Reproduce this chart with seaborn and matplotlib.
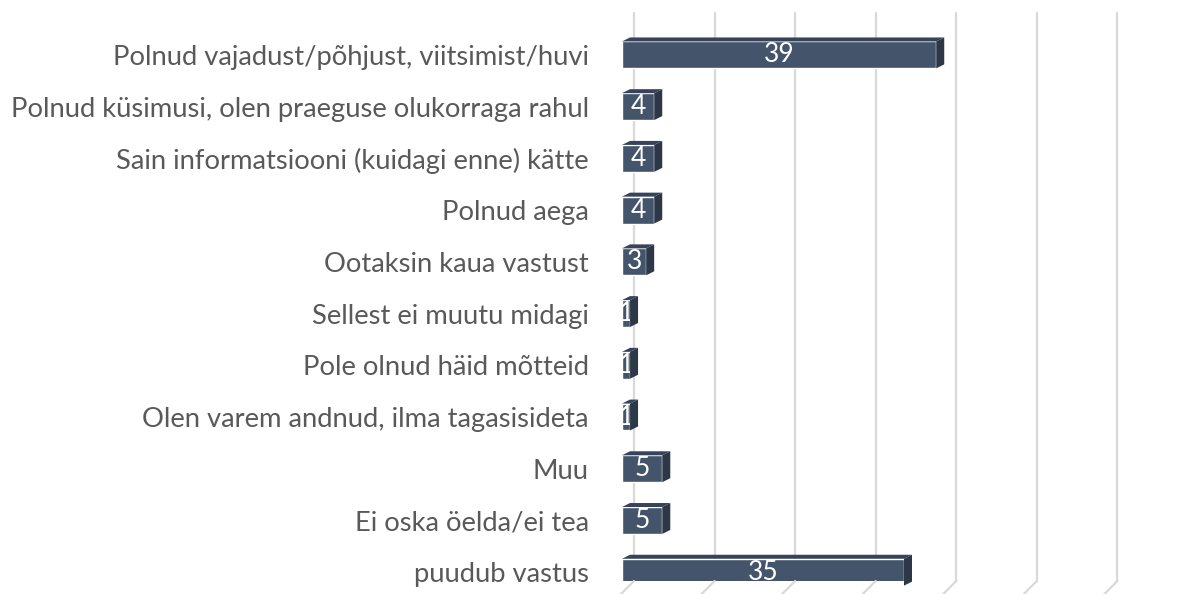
import matplotlib
matplotlib.use("Agg")
import matplotlib.pyplot as plt
import matplotlib.transforms as mtransforms
from matplotlib.patches import Polygon
import pandas as pd
import seaborn as sns

# data
categories = [
    "Polnud vajadust/põhjust, viitsimist/huvi",
    "Polnud küsimusi, olen praeguse olukorraga rahul",
    "Sain informatsiooni (kuidagi enne) kätte",
    "Polnud aega",
    "Ootaksin kaua vastust",
    "Sellest ei muutu midagi",
    "Pole olnud häid mõtteid",
    "Olen varem andnud, ilma tagasisideta",
    "Muu",
    "Ei oska öelda/ei tea",
    "puudub vastus",
]
values = [39, 4, 4, 4, 3, 1, 1, 1, 5, 5, 35]
grid_ticks = [0, 10, 20, 30, 40, 50, 60]

df = pd.DataFrame({"reason": categories, "count": values})

sns.set_theme(style="white")
plt.rcParams["font.family"] = ["Lato", "DejaVu Sans"]

W, H = 1186, 594
fig = plt.figure(figsize=(W / 100, H / 100), dpi=100)
ax = fig.add_axes([622 / W, 13 / H, 564 / W, 568 / H])

y_lo, y_hi = 10.17, -0.81

bar_color = "#44546A"
sns.barplot(data=df, y="reason", x="count", orient="h", color=bar_color,
            width=0.52, saturation=1, ax=ax, zorder=3)

ax.set_xlim(0, 70)
ax.set_ylim(y_lo, y_hi)
ax.set_xlabel("")
ax.set_ylabel("")
ax.set_xticks([])
for s in ax.spines.values():
    s.set_visible(False)
ax.tick_params(axis="y", length=0, pad=24, labelsize=19.7, labelcolor="#595959")

# back wall gridlines, shifted right, with floor segments slanting down-left
back = mtransforms.offset_copy(ax.transData, fig=fig, x=12, y=0, units="dots")
for g in grid_ticks:
    ax.plot([g, g], [y_lo, y_hi], transform=back, color="#D9D9D9", lw=1.6,
            zorder=1, clip_on=False)
    ax.annotate("", xy=(g, y_lo), xycoords=back,
                xytext=(-14, -14), textcoords="offset pixels",
                arrowprops=dict(arrowstyle="-", color="#D9D9D9", lw=1.6,
                                shrinkA=0, shrinkB=0))

# fake 3d: right side and top faces
dx, dy = 8, 4
fig.canvas.draw()
for p in ax.patches:
    bb = p.get_window_extent()
    x0, x1, y0, y1 = bb.x0, bb.x1, bb.y0, bb.y1
    side = Polygon([(x1, y0), (x1 + dx, y0 + dy), (x1 + dx, y1 + dy), (x1, y1)],
                   closed=True, transform=None, facecolor="#2C3747",
                   edgecolor="none", zorder=4)
    top = Polygon([(x0, y1), (x0 + dx, y1 + dy), (x1 + dx, y1 + dy), (x1, y1)],
                  closed=True, transform=None, facecolor="#36435A",
                  edgecolor="none", zorder=4)
    fig.add_artist(side)
    fig.add_artist(top)

for i, v in enumerate(values):
    ax.text(v / 2, i, str(v), ha="center", va="center", color="white",
            fontsize=19, zorder=6)

fig.savefig("out.png", dpi=100, facecolor="white")
